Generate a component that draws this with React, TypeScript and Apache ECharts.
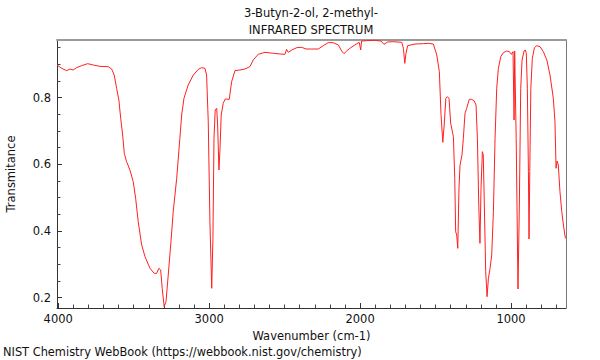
import React, { useEffect, useRef } from 'react';
import * as echarts from 'echarts';

const wavenumber = [
  4008, 3977, 3944, 3922, 3901, 3878, 3845, 3805, 3768, 3724, 3669, 3646, 3629, 3613, 3598, 3586,
  3573, 3562, 3547, 3525, 3503, 3487, 3470, 3447, 3425, 3392, 3364, 3348, 3333, 3321, 3311, 3298,
  3286, 3271, 3253, 3238, 3215, 3194, 3182, 3167, 3139, 3105, 3072, 3050, 3028, 3017, 3006, 2995,
  2983, 2975, 2968, 2960, 2950, 2944, 2935, 2928, 2920, 2907, 2893, 2867, 2851, 2829, 2796, 2763,
  2730, 2708, 2675, 2630, 2575, 2531, 2498, 2487, 2476, 2453, 2420, 2387, 2358, 2321, 2277, 2244,
  2211, 2178, 2144, 2122, 2107, 2089, 2068, 2035, 2006, 1996, 1990, 1957, 1902, 1862, 1842, 1818,
  1780, 1724, 1713, 1704, 1696, 1685, 1636, 1581, 1548, 1515, 1492, 1475, 1464, 1452, 1443, 1432,
  1422, 1411, 1400, 1382, 1373, 1367, 1360, 1353, 1345, 1338, 1325, 1316, 1305, 1294, 1277, 1261,
  1244, 1232, 1223, 1214, 1206, 1199, 1190, 1184, 1177, 1168, 1159, 1150, 1139, 1128, 1117, 1106,
  1095, 1084, 1068, 1051, 1029, 1011, 998, 987, 980, 976, 972, 966, 954, 945, 936, 927,
  914, 905, 899, 892, 885, 881, 876, 869, 859, 845, 829, 808, 786, 763, 742, 720,
  709, 702, 695, 687, 676, 664, 653, 640,
];

const transmittance = [
  0.898, 0.888, 0.881, 0.886, 0.883, 0.890, 0.896, 0.902, 0.898, 0.894, 0.893, 0.886, 0.868, 0.828, 0.793, 0.738,
  0.688, 0.633, 0.608, 0.583, 0.548, 0.498, 0.428, 0.358, 0.323, 0.288, 0.273, 0.273, 0.288, 0.283, 0.228, 0.173,
  0.188, 0.268, 0.368, 0.458, 0.558, 0.678, 0.748, 0.798, 0.838, 0.868, 0.885, 0.890, 0.888, 0.868, 0.728, 0.428,
  0.228, 0.378, 0.678, 0.763, 0.768, 0.718, 0.583, 0.648, 0.748, 0.783, 0.796, 0.795, 0.848, 0.881, 0.883, 0.886,
  0.893, 0.913, 0.930, 0.936, 0.933, 0.931, 0.930, 0.945, 0.936, 0.943, 0.950, 0.951, 0.946, 0.946, 0.946, 0.956,
  0.965, 0.965, 0.958, 0.940, 0.932, 0.940, 0.948, 0.958, 0.966, 0.943, 0.970, 0.971, 0.972, 0.970, 0.960, 0.967,
  0.968, 0.966, 0.948, 0.903, 0.933, 0.956, 0.961, 0.962, 0.963, 0.961, 0.928, 0.878, 0.750, 0.666, 0.718, 0.798,
  0.803, 0.798, 0.723, 0.683, 0.558, 0.398, 0.388, 0.348, 0.528, 0.598, 0.628, 0.678, 0.753, 0.768, 0.795, 0.795,
  0.790, 0.778, 0.678, 0.478, 0.363, 0.528, 0.638, 0.628, 0.478, 0.278, 0.203, 0.258, 0.288, 0.328, 0.458, 0.678,
  0.828, 0.888, 0.923, 0.935, 0.940, 0.938, 0.930, 0.938, 0.733, 0.940, 0.940, 0.678, 0.226, 0.478, 0.828, 0.913,
  0.940, 0.943, 0.933, 0.828, 0.578, 0.376, 0.578, 0.828, 0.918, 0.950, 0.956, 0.953, 0.938, 0.913, 0.868, 0.798,
  0.728, 0.588, 0.610, 0.598, 0.518, 0.458, 0.418, 0.378,
];

const xMajorTicks = [1000, 2000, 3000, 4000];
const xMinorTicks = [700, 800, 900, 1100, 1200, 1300, 1400, 1500, 1600, 1700, 1800, 1900, 2100, 2200, 2300, 2400, 2500, 2600, 2700, 2800, 2900, 3100, 3200, 3300, 3400, 3500, 3600, 3700, 3800, 3900];
const yMajorTicks = [0.2, 0.4, 0.6, 0.8];
const yMinorTicks = [0.25, 0.3, 0.35, 0.45, 0.5, 0.55, 0.65, 0.7, 0.75, 0.85, 0.9, 0.95];

const X_MIN = 636;
const X_MAX = 4008;
const Y_MIN = 0.169;
const Y_MAX = 0.973;

const FONT = 'DejaVu Sans';

export default function App() {
  const ref = useRef<HTMLDivElement>(null);

  useEffect(() => {
    if (!ref.current) return;
    const chart = echarts.init(ref.current, undefined, { renderer: 'svg' });
    const data = wavenumber.map((w, i) => [w, transmittance[i]]);
    const textStyle = { fontFamily: FONT, fontSize: 11.5, color: '#111' };

    chart.setOption({
      animation: false,
      backgroundColor: '#fff',
      textStyle: { fontFamily: FONT },
      grid: { left: 57, right: 34, top: 40, bottom: 52, containLabel: false, outerBoundsMode: 'none' },
      xAxis: [
        {
          type: 'value',
          inverse: true,
          min: X_MIN,
          max: X_MAX,
          position: 'bottom',
          name: 'Wavenumber (cm-1)',
          nameLocation: 'middle',
          nameGap: 17,
          nameTextStyle: textStyle,
          axisLine: { show: true, lineStyle: { color: '#333', width: 1 } },
          axisTick: { show: true, inside: true, length: 5, lineStyle: { color: '#333' }, customValues: xMajorTicks },
          axisLabel: { ...textStyle, margin: 5, customValues: xMajorTicks, formatter: (v: number) => String(v) },
          splitLine: { show: false },
        },
        {
          type: 'value',
          inverse: true,
          min: X_MIN,
          max: X_MAX,
          position: 'bottom',
          axisLine: { show: false },
          axisTick: { show: true, inside: true, length: 3.5, lineStyle: { color: '#444' }, customValues: xMinorTicks },
          axisLabel: { show: false },
          splitLine: { show: false },
        },
        {
          type: 'value',
          inverse: true,
          min: X_MIN,
          max: X_MAX,
          position: 'top',
          axisLine: { show: true, lineStyle: { color: '#9a9a9a', width: 2 } },
          axisTick: { show: false },
          axisLabel: { show: false },
          splitLine: { show: false },
        },
      ],
      yAxis: [
        {
          type: 'value',
          min: Y_MIN,
          max: Y_MAX,
          position: 'left',
          name: 'Transmitance',
          nameLocation: 'middle',
          nameGap: 40,
          nameTextStyle: textStyle,
          axisLine: { show: true, lineStyle: { color: '#333', width: 1 } },
          axisTick: { show: true, inside: true, length: 5, lineStyle: { color: '#333' }, customValues: yMajorTicks },
          axisLabel: { ...textStyle, margin: 6, customValues: yMajorTicks, formatter: (v: number) => v.toFixed(1) },
          splitLine: { show: false },
        },
        {
          type: 'value',
          min: Y_MIN,
          max: Y_MAX,
          position: 'left',
          axisLine: { show: false },
          axisTick: { show: true, inside: true, length: 3.5, lineStyle: { color: '#444' }, customValues: yMinorTicks },
          axisLabel: { show: false },
          splitLine: { show: false },
        },
        {
          type: 'value',
          min: Y_MIN,
          max: Y_MAX,
          position: 'right',
          axisLine: { show: true, lineStyle: { color: '#777', width: 1 } },
          axisTick: { show: false },
          axisLabel: { show: false },
          splitLine: { show: false },
        },
      ],
      graphic: [
        {
          type: 'text',
          x: 311,
          y: 13,
          style: { text: '3-Butyn-2-ol, 2-methyl-', fontFamily: FONT, fontSize: 11.5, fill: '#111', textAlign: 'center', textVerticalAlign: 'middle' },
        },
        {
          type: 'text',
          x: 311,
          y: 30,
          style: { text: 'INFRARED SPECTRUM', fontFamily: FONT, fontSize: 11.5, fill: '#111', textAlign: 'center', textVerticalAlign: 'middle' },
        },
        {
          type: 'text',
          x: 3,
          y: 352,
          style: { text: 'NIST Chemistry WebBook (https://webbook.nist.gov/chemistry)', fontFamily: FONT, fontSize: 11.4, fill: '#111', textAlign: 'left', textVerticalAlign: 'middle' },
        },
      ],
      series: [
        {
          type: 'line',
          xAxisIndex: 0,
          yAxisIndex: 0,
          data,
          showSymbol: false,
          symbol: 'none',
          clip: true,
          lineStyle: { color: '#ff2020', width: 1 },
        },
      ],
    });

    return () => chart.dispose();
  }, []);

  return <div ref={ref} style={{ position: 'absolute', left: 0, top: 0, width: 600, height: 360 }} />;
}
